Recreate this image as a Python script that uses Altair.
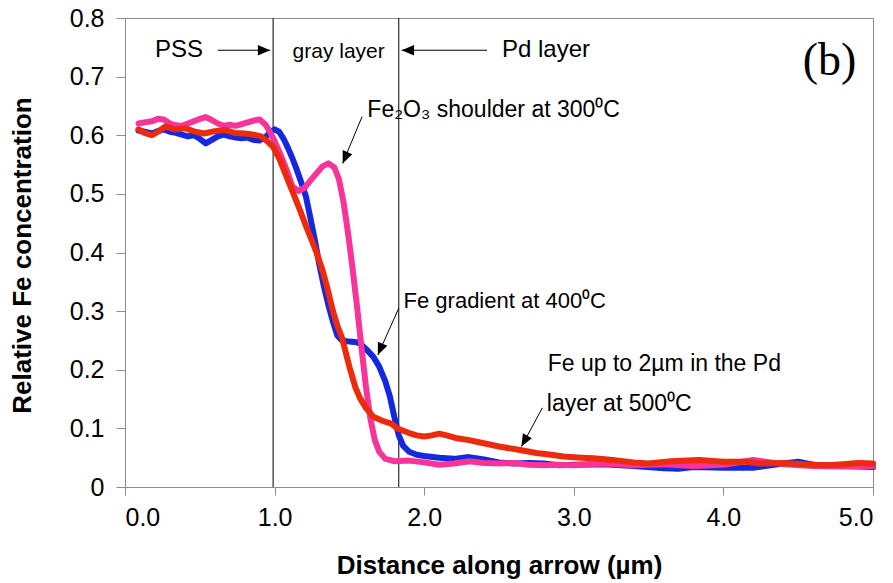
import altair as alt
import pandas as pd

# ---------------- data ----------------
pink_x = [0.09, 0.13, 0.18, 0.22, 0.26, 0.30, 0.34, 0.38, 0.42, 0.46, 0.50, 0.54, 0.58, 0.62,
          0.66, 0.70, 0.74, 0.78, 0.82, 0.86, 0.90, 0.94, 0.97, 1.00, 1.04, 1.08, 1.12, 1.16,
          1.20, 1.24, 1.28, 1.32, 1.36, 1.40, 1.43, 1.46, 1.49, 1.52, 1.55, 1.58, 1.61, 1.64,
          1.67, 1.70, 1.74, 1.80, 1.90, 2.00, 2.10, 2.20, 2.30, 2.40, 2.50, 2.60, 2.70, 2.80,
          2.90, 3.00, 3.20, 3.40, 3.60, 3.80, 4.00, 4.20, 4.40, 4.60, 4.80, 5.00]
pink_y = [0.620, 0.622, 0.624, 0.628, 0.627, 0.620, 0.617, 0.616, 0.620, 0.624, 0.628, 0.631, 0.626, 0.620,
          0.616, 0.618, 0.616, 0.619, 0.622, 0.625, 0.627, 0.618, 0.605, 0.590, 0.567, 0.541, 0.512, 0.505,
          0.510, 0.523, 0.535, 0.547, 0.552, 0.545, 0.525, 0.487, 0.435, 0.375, 0.310, 0.240, 0.172, 0.117,
          0.080, 0.060, 0.048, 0.044, 0.045, 0.042, 0.038, 0.040, 0.044, 0.041, 0.040, 0.041, 0.038, 0.037,
          0.038, 0.037, 0.040, 0.037, 0.039, 0.036, 0.038, 0.046, 0.039, 0.036, 0.035, 0.036]

blue_x = [0.09, 0.13, 0.18, 0.22, 0.26, 0.30, 0.34, 0.38, 0.42, 0.46, 0.50, 0.54, 0.58, 0.62,
          0.66, 0.70, 0.74, 0.78, 0.82, 0.86, 0.90, 0.94, 0.97, 1.00, 1.03, 1.06, 1.09, 1.12,
          1.15, 1.18, 1.21, 1.24, 1.27, 1.30, 1.33, 1.36, 1.39, 1.42, 1.45, 1.50, 1.55, 1.58,
          1.62, 1.66, 1.70, 1.74, 1.77, 1.80, 1.83, 1.86, 1.90, 1.95, 2.00, 2.10, 2.20, 2.30,
          2.40, 2.50, 2.60, 2.70, 2.80, 2.90, 3.00, 3.20, 3.40, 3.60, 3.70, 3.80, 4.00, 4.20,
          4.40, 4.50, 4.60, 4.80, 5.00]
blue_y = [0.608, 0.606, 0.603, 0.607, 0.610, 0.606, 0.604, 0.601, 0.598, 0.600, 0.594, 0.586, 0.592, 0.598,
          0.601, 0.598, 0.596, 0.595, 0.596, 0.592, 0.591, 0.597, 0.605, 0.610, 0.606, 0.594, 0.578, 0.560,
          0.540, 0.518, 0.495, 0.458, 0.420, 0.378, 0.342, 0.310, 0.282, 0.258, 0.250, 0.248, 0.247, 0.243,
          0.233, 0.222, 0.205, 0.180, 0.155, 0.120, 0.088, 0.070, 0.060, 0.055, 0.053, 0.050, 0.048, 0.051,
          0.047, 0.042, 0.040, 0.041, 0.040, 0.037, 0.038, 0.039, 0.036, 0.032, 0.031, 0.034, 0.033, 0.033,
          0.040, 0.043, 0.038, 0.036, 0.034]

red_x = [0.09, 0.13, 0.18, 0.22, 0.27, 0.33, 0.40, 0.47, 0.53, 0.60, 0.67, 0.73, 0.80, 0.86,
         0.91, 0.95, 0.99, 1.035, 1.08, 1.125, 1.17, 1.21, 1.25, 1.28, 1.32, 1.35, 1.39, 1.42,
         1.45, 1.50, 1.54, 1.57, 1.61, 1.66, 1.72, 1.78, 1.82, 1.86, 1.90, 1.95, 2.00, 2.05,
         2.10, 2.15, 2.22, 2.30, 2.39, 2.50, 2.64, 2.75, 2.85, 2.93, 3.05, 3.13, 3.26, 3.40,
         3.50, 3.65, 3.84, 4.00, 4.15, 4.24, 4.40, 4.60, 4.70, 4.80, 4.90, 5.00]
red_y = [0.610, 0.604, 0.600, 0.606, 0.615, 0.610, 0.612, 0.606, 0.603, 0.607, 0.609, 0.604, 0.603, 0.601,
         0.598, 0.590, 0.580, 0.558, 0.529, 0.501, 0.472, 0.445, 0.420, 0.400, 0.370, 0.342, 0.300, 0.275,
         0.255, 0.205, 0.170, 0.152, 0.135, 0.120, 0.113, 0.108, 0.100, 0.096, 0.092, 0.088, 0.086, 0.088,
         0.091, 0.088, 0.083, 0.080, 0.075, 0.069, 0.063, 0.058, 0.055, 0.052, 0.050, 0.049, 0.046, 0.042,
         0.040, 0.044, 0.046, 0.043, 0.043, 0.040, 0.041, 0.038, 0.037, 0.039, 0.041, 0.040]

layer_bounds = [0.99, 1.83]  # vertical lines (µm)

x_ticks = [0, 1, 2, 3, 4, 5]
y_ticks = [0, 0.1, 0.2, 0.3, 0.4, 0.5, 0.6, 0.7, 0.8]

# annotation texts (data coordinates, left anchored)
ann_text = ["PSS", "gray layer", "Pd layer", "Fe\u2082O\u2083 shoulder at 300\u2070C",
            "Fe gradient at 400\u2070C", "Fe up to 2\u00b5m in the Pd", "layer at 500\u2070C"]
ann_x = [0.20, 1.12, 2.52, 1.62, 1.862, 2.826, 2.82]
ann_y = [0.745, 0.742, 0.745, 0.643, 0.317, 0.210, 0.141]
ann_fs = [24, 21, 24, 23, 22, 23, 23]

# arrows: tail -> tip
arr_x = [0.62, 2.42, 1.585, 1.83, 2.79]
arr_y = [0.745, 0.745, 0.632, 0.305, 0.135]
arr_x2 = [0.97, 1.85, 1.455, 1.69, 2.65]
arr_y2 = [0.745, 0.745, 0.552, 0.225, 0.069]
arr_angle = [90, 270, 203, 203, 209]

assert len(pink_x) == len(pink_y) and len(blue_x) == len(blue_y) and len(red_x) == len(red_y)

# ---------------- chart ----------------
FONT = "Liberation Sans"
xscale = alt.Scale(domain=[0, 5], nice=False, zero=False)
yscale = alt.Scale(domain=[0, 0.8], nice=False, zero=False)

X = alt.X("x:Q", scale=xscale,
          axis=alt.Axis(values=x_ticks, format=".1f", title="Distance along arrow (\u00b5m)",
                        tickSize=8, labelPadding=10, titleX=374, titleY=78,
                        titleBaseline="middle", titleAlign="center"))
Y = alt.Y("y:Q", scale=yscale,
          axis=alt.Axis(values=y_ticks,
                        labelExpr="datum.value == 0 ? '0' : format(datum.value, '.1f')",
                        title="Relative Fe concentration", tickSize=9, labelPadding=12,
                        titleX=-103, titleY=237, titleAngle=270,
                        titleBaseline="middle", titleAlign="center"))


def line(xs, ys, color):
    df = pd.DataFrame({"x": xs, "y": ys})
    return alt.Chart(df).mark_line(color=color, strokeWidth=6, strokeJoin="round",
                                   strokeCap="round").encode(x=X, y=Y)


blue = line(blue_x, blue_y, "#1428E0")
pink = line(pink_x, pink_y, "#F7349A")
red = line(red_x, red_y, "#EC2A0C")

vlines = alt.Chart(pd.DataFrame({"x": layer_bounds})).mark_rule(
    color="black", strokeWidth=1).encode(x=X)

arr_df = pd.DataFrame({"x": arr_x, "y": arr_y, "x2": arr_x2, "y2": arr_y2, "a": arr_angle})
arrow_lines = alt.Chart(arr_df).mark_rule(color="black", strokeWidth=1).encode(
    x=X, y=Y, x2="x2:Q", y2="y2:Q")
heads = alt.Chart(arr_df).mark_point(
    shape="M0,0 L-0.42,1 L0.42,1 Z", filled=True, color="black", opacity=1, size=600
).encode(x=alt.X("x2:Q", scale=xscale), y=alt.Y("y2:Q", scale=yscale),
         angle=alt.Angle("a:Q", scale=None))

txt_df = pd.DataFrame({"x": ann_x, "y": ann_y, "t": ann_text, "fs": ann_fs})
texts = alt.Chart(txt_df).mark_text(align="left", baseline="middle", font=FONT,
                                    color="black").encode(
    x=X, y=Y, text="t:N", size=alt.Size("fs:Q", scale=None))

label_b = alt.Chart(pd.DataFrame({"x": [4.71], "y": [0.727], "t": ["(b)"]})).mark_text(
    align="center", baseline="middle", font="Liberation Serif", fontSize=46, color="black"
).encode(x=X, y=Y, text="t:N")

chart = alt.layer(vlines, blue, pink, red, arrow_lines, heads, texts, label_b).properties(
    width=748, height=469,
    autosize=alt.AutoSizeParams(type="none"),
    padding={"left": 125, "top": 18, "right": 20, "bottom": 96},
).configure_view(stroke="#8c8c8c", strokeWidth=1).configure_axis(
    grid=False, domainColor="#8c8c8c", tickColor="#8c8c8c", labelColor="black",
    labelFont=FONT, labelFontSize=25, titleFont=FONT, titleFontSize=26,
    titleFontWeight="bold", titleColor="black"
)

chart.save("out.html", embed_options={"renderer": "svg", "actions": False})
